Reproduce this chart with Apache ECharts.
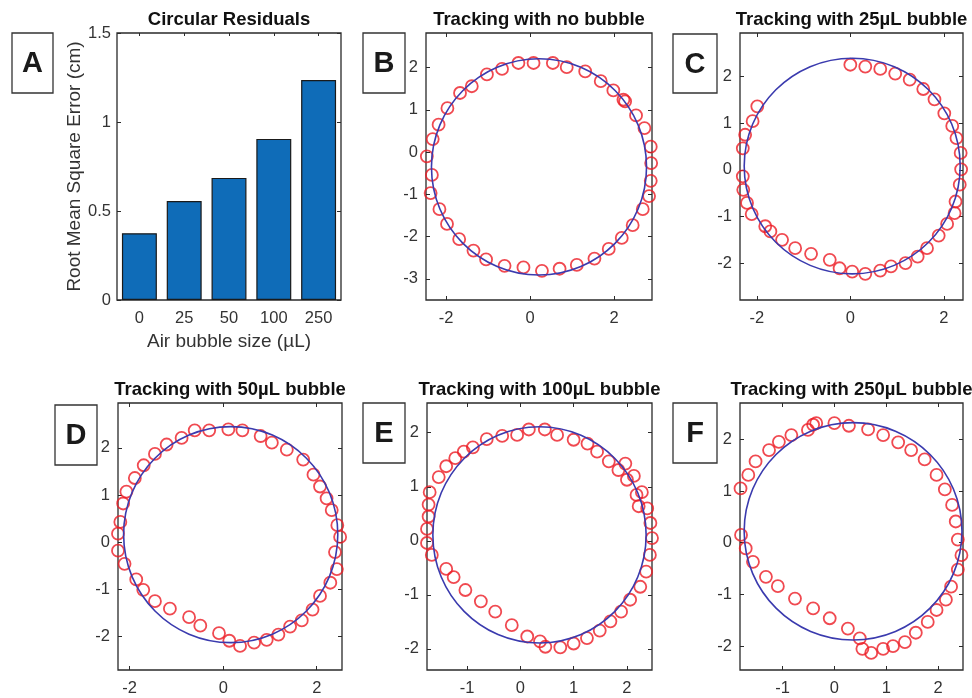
<!DOCTYPE html>
<html>
<head>
<meta charset="utf-8">
<script src="https://cdn.jsdelivr.net/npm/echarts@6/dist/echarts.min.js"></script>
<style>
  html, body { margin: 0; padding: 0; background: #fff; }
  #chart { width: 972px; height: 698px; }
</style>
</head>
<body>
<div id="chart"></div>
<script>
// A: circular residuals
const bubbleSizes = ['0', '25', '50', '100', '250'];
const rmse = [0.375, 0.556, 0.686, 0.905, 1.236];
const rmseTicks = [0, 0.5, 1, 1.5];

// tracked positions [x, y] in cm
const trackNone = [
  [0.08, 2.11], [-0.28, 2.11], [-0.67, 1.97], [-1.03, 1.84], [-1.39, 1.56], [-1.67, 1.40],
  [-1.97, 1.04], [-2.18, 0.65], [-2.32, 0.31], [-2.46, -0.10], [-2.34, -0.54], [-2.37, -0.97],
  [-2.16, -1.35], [-1.98, -1.70], [-1.69, -2.06], [-1.35, -2.33], [-1.05, -2.54], [-0.61, -2.69],
  [-0.16, -2.73], [0.28, -2.81], [0.70, -2.76], [1.11, -2.67], [1.53, -2.52], [1.87, -2.29],
  [2.18, -2.03], [2.44, -1.73], [2.68, -1.35], [2.83, -1.04], [2.87, -0.68], [2.88, -0.26],
  [2.87, 0.13], [2.72, 0.57], [2.52, 0.87], [2.26, 1.20], [2.22, 1.24], [1.98, 1.46],
  [1.68, 1.68], [1.31, 1.91], [0.87, 2.01], [0.54, 2.11]
];
const track25 = [
  [0.0, 2.25], [0.32, 2.21], [0.64, 2.16], [0.96, 2.06], [1.27, 1.93], [1.56, 1.73],
  [1.80, 1.51], [2.01, 1.21], [2.18, 0.94], [2.27, 0.68], [2.36, 0.36], [2.37, 0.01],
  [2.34, -0.32], [2.25, -0.68], [2.23, -0.93], [2.07, -1.16], [1.89, -1.41], [1.64, -1.68],
  [1.44, -1.86], [1.18, -2.0], [0.87, -2.07], [0.64, -2.16], [0.32, -2.23], [0.04, -2.18],
  [-0.23, -2.11], [-0.44, -1.93], [-0.84, -1.80], [-1.18, -1.68], [-1.46, -1.50], [-1.71, -1.32],
  [-1.82, -1.21], [-2.11, -0.95], [-2.21, -0.71], [-2.29, -0.43], [-2.30, -0.14], [-2.37, 0.18],
  [-2.30, 0.46], [-2.25, 0.75], [-2.09, 1.04], [-1.99, 1.36]
];
const track50 = [
  [0.11, 2.39], [0.41, 2.37], [0.80, 2.25], [1.04, 2.11], [1.36, 1.96], [1.71, 1.75],
  [1.93, 1.43], [2.07, 1.18], [2.21, 0.93], [2.32, 0.68], [2.44, 0.36], [2.50, 0.11],
  [2.57, 0.0], [2.39, -0.21], [2.43, -0.57], [2.29, -0.86], [2.07, -1.14], [1.91, -1.43],
  [1.68, -1.66], [1.43, -1.79], [1.18, -1.96], [0.93, -2.07], [0.66, -2.13], [0.36, -2.20],
  [0.13, -2.09], [-0.09, -1.93], [-0.49, -1.77], [-0.73, -1.59], [-1.14, -1.41], [-1.46, -1.25],
  [-1.71, -1.01], [-1.86, -0.79], [-2.11, -0.46], [-2.25, -0.18], [-2.25, 0.18], [-2.20, 0.43],
  [-2.14, 0.82], [-2.07, 1.07], [-1.89, 1.36], [-1.70, 1.63], [-1.46, 1.87], [-1.21, 2.07],
  [-0.89, 2.21], [-0.61, 2.37], [-0.30, 2.37]
];
const track100 = [
  [0.16, 2.06], [0.46, 2.06], [0.69, 1.96], [1.0, 1.87], [1.26, 1.80], [1.44, 1.65],
  [1.66, 1.47], [1.84, 1.31], [1.97, 1.43], [2.13, 1.20], [2.0, 1.13], [2.28, 0.90],
  [2.18, 0.85], [2.22, 0.64], [2.38, 0.60], [2.44, 0.33], [2.47, 0.05], [2.43, -0.26],
  [2.36, -0.57], [2.25, -0.85], [2.06, -1.09], [1.89, -1.31], [1.69, -1.49], [1.49, -1.66],
  [1.25, -1.80], [1.0, -1.90], [0.75, -1.97], [0.47, -1.96], [0.37, -1.86], [0.13, -1.77],
  [-0.16, -1.56], [-0.47, -1.31], [-0.74, -1.12], [-1.03, -0.91], [-1.25, -0.67], [-1.39, -0.52],
  [-1.66, -0.26], [-1.75, -0.04], [-1.75, 0.22], [-1.72, 0.45], [-1.72, 0.67], [-1.70, 0.90],
  [-1.53, 1.18], [-1.39, 1.38], [-1.22, 1.53], [-1.06, 1.65], [-0.89, 1.73], [-0.63, 1.88],
  [-0.34, 1.94], [-0.06, 1.96]
];
const track250 = [
  [0.0, 2.31], [0.28, 2.26], [0.65, 2.19], [0.94, 2.08], [1.23, 1.94], [1.48, 1.79],
  [1.74, 1.61], [1.97, 1.31], [2.13, 1.03], [2.27, 0.73], [2.34, 0.41], [2.38, 0.06],
  [2.45, -0.24], [2.38, -0.52], [2.25, -0.85], [2.15, -1.10], [1.97, -1.30], [1.80, -1.53],
  [1.57, -1.74], [1.36, -1.92], [1.13, -2.0], [0.94, -2.05], [0.71, -2.13], [0.54, -2.05],
  [0.49, -1.85], [0.26, -1.66], [-0.09, -1.46], [-0.41, -1.27], [-0.76, -1.08], [-1.09, -0.84],
  [-1.32, -0.66], [-1.57, -0.37], [-1.71, -0.11], [-1.80, 0.15], [-1.84, 0.47], [-1.84, 0.76],
  [-1.81, 1.05], [-1.66, 1.31], [-1.52, 1.57], [-1.26, 1.79], [-1.07, 1.95], [-0.83, 2.08],
  [-0.51, 2.18], [-0.35, 2.31], [-0.41, 2.28]
];

// fitted circles [cx, cy, r]
const fitNone = [0.21, -0.35, 2.56];
const fit25 = [0.04, 0.08, 2.31];
const fit50 = [0.16, 0.16, 2.29];
const fit100 = [0.36, 0.11, 2.0];
const fit250 = [0.36, 0.22, 2.1];

// tick labels
const ticksWide = [-2, 0, 2];
const ticksNarrow = [-1, 0, 1, 2];
const ticksY = [-2, -1, 0, 1, 2];
const ticksYNone = [-3, -2, -1, 0, 1, 2];

const FONT = '"Liberation Sans", Arial, sans-serif';
const TICK_COLOR = '#333';
const BORDER = '#2a2a2a';

const panels = [
  { title: 'Circular Residuals', letter: 'A', box: [12, 33, 41, 60],
    grid: { left: 117, top: 33, width: 224, height: 267 } },
  { title: 'Tracking with no bubble', letter: 'B', box: [363, 33, 42, 60],
    grid: { left: 426, top: 33, width: 226, height: 267 },
    x: [-2.48, 2.9], y: [-3.5, 2.82], xt: ticksWide, yt: ticksYNone, pts: trackNone, fit: fitNone },
  { title: 'Tracking with 25µL bubble', letter: 'C', box: [673, 34, 44, 59],
    grid: { left: 740, top: 33, width: 223, height: 267 },
    x: [-2.36, 2.41], y: [-2.79, 2.93], xt: ticksWide, yt: ticksY, pts: track25, fit: fit25 },
  { title: 'Tracking with 50µL bubble', letter: 'D', box: [55, 405, 42, 60],
    grid: { left: 118, top: 403, width: 224, height: 267 },
    x: [-2.25, 2.54], y: [-2.71, 2.95], xt: ticksWide, yt: ticksY, pts: track50, fit: fit50 },
  { title: 'Tracking with 100µL bubble', letter: 'E', box: [363, 403, 42, 60],
    grid: { left: 427, top: 403, width: 225, height: 267 },
    x: [-1.75, 2.47], y: [-2.39, 2.55], xt: ticksNarrow, yt: ticksY, pts: track100, fit: fit100 },
  { title: 'Tracking with 250µL bubble', letter: 'F', box: [673, 403, 44, 60],
    grid: { left: 740, top: 403, width: 223, height: 267 },
    x: [-1.82, 2.48], y: [-2.46, 2.70], xt: ticksNarrow, yt: ticksY, pts: track250, fit: fit250 }
];

function valAxis(gi, pos, range, ticks, showLabel, margin) {
  return {
    type: 'value', gridIndex: gi, position: pos, min: range[0], max: range[1],
    axisLine: { show: false, onZero: false }, splitLine: { show: false },
    axisTick: { show: true, inside: true, length: 4, customValues: ticks, lineStyle: { color: BORDER } },
    axisLabel: { show: showLabel, customValues: ticks, margin: margin, color: TICK_COLOR, fontSize: 16.5, fontFamily: FONT }
  };
}

const grids = [], xAxes = [], yAxes = [], series = [], graphics = [];

panels.forEach((p, i) => {
  grids.push(Object.assign({ show: true, borderColor: BORDER, borderWidth: 1.3, backgroundColor: '#fff' }, p.grid));

  // titles and letter boxes
  graphics.push({
    type: 'text', x: p.grid.left + p.grid.width / 2, y: p.grid.top - 13,
    style: { text: p.title, font: 'bold 18.5px ' + FONT, fill: '#111', align: 'center', verticalAlign: 'middle' }
  });
  graphics.push({
    type: 'rect', shape: { x: p.box[0], y: p.box[1], width: p.box[2], height: p.box[3] },
    style: { fill: '#fff', stroke: '#333', lineWidth: 1.3 }
  });
  graphics.push({
    type: 'text', x: p.box[0] + p.box[2] / 2, y: p.box[1] + p.box[3] / 2 + 1,
    style: { text: p.letter, font: 'bold 29px ' + FONT, fill: '#1a1a1a', align: 'center', verticalAlign: 'middle' }
  });

  if (i === 0) {
    const catAxis = (pos, show) => ({
      type: 'category', gridIndex: 0, position: pos, data: bubbleSizes,
      axisLine: { show: false, onZero: false },
      axisTick: { show: true, inside: true, length: 3, alignWithLabel: true, lineStyle: { color: BORDER } },
      axisLabel: { show: show, margin: 10, color: TICK_COLOR, fontSize: 16.5, fontFamily: FONT }
    });
    xAxes.push(Object.assign(catAxis('bottom', true), {
      name: 'Air bubble size (µL)', nameLocation: 'middle', nameGap: 32,
      nameTextStyle: { fontSize: 19, color: '#333', fontFamily: FONT }
    }));
    xAxes.push(catAxis('top', false));
    yAxes.push(Object.assign(valAxis(0, 'left', [0, 1.5], rmseTicks, true, 6), {
      name: 'Root Mean Square Error (cm)', nameLocation: 'middle', nameGap: 33,
      nameTextStyle: { fontSize: 19, color: '#333', fontFamily: FONT }
    }));
    yAxes.push(valAxis(0, 'right', [0, 1.5], rmseTicks, false, 6));
    series.push({
      type: 'bar', xAxisIndex: 0, yAxisIndex: 0, data: rmse, barWidth: '78%',
      itemStyle: { color: '#0f6cb8', borderColor: '#1a1a1a', borderWidth: 1.2 }
    });
    return;
  }

  xAxes.push(valAxis(i, 'bottom', p.x, p.xt, true, 10));
  xAxes.push(valAxis(i, 'top', p.x, p.xt, false, 10));
  yAxes.push(valAxis(i, 'left', p.y, p.yt, true, 8));
  yAxes.push(valAxis(i, 'right', p.y, p.yt, false, 8));

  series.push({
    type: 'scatter', xAxisIndex: 2 * i, yAxisIndex: 2 * i, data: p.pts,
    symbol: 'circle', symbolSize: 12,
    itemStyle: { color: 'rgba(255,255,255,0)', borderColor: '#ec1c24', borderWidth: 1.8 }
  });
  series.push({
    type: 'custom', xAxisIndex: 2 * i, yAxisIndex: 2 * i, data: [p.fit], z: 3,
    renderItem: (params, api) => {
      const c = api.coord([api.value(0), api.value(1)]);
      const s = api.size([api.value(2), api.value(2)]);
      return {
        type: 'ellipse', shape: { cx: c[0], cy: c[1], rx: s[0], ry: s[1] },
        style: { fill: 'none', stroke: '#3a3aae', lineWidth: 1.6 }
      };
    }
  });
});

const chart = echarts.init(document.getElementById('chart'));
chart.setOption({
  backgroundColor: '#fff',
  animation: false,
  grid: grids,
  xAxis: xAxes,
  yAxis: yAxes,
  series: series,
  graphic: graphics
});
</script>
</body>
</html>
